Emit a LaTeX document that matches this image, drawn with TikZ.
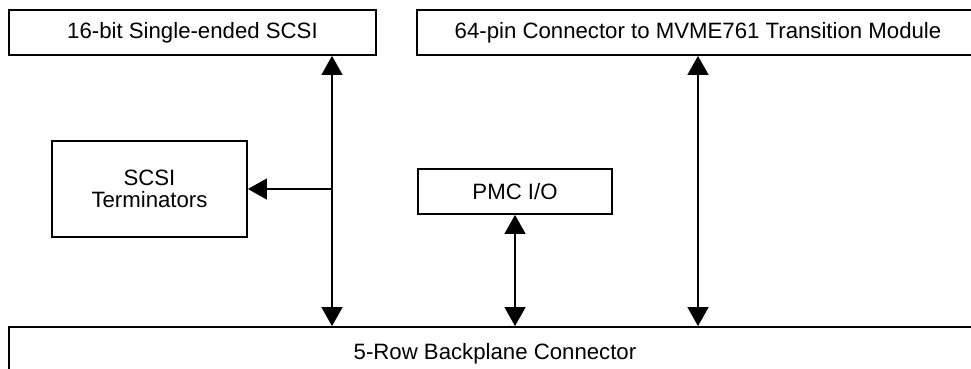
\documentclass[tikz,border=0pt]{standalone}
\usepackage{fontspec}
\setmainfont{Liberation Sans}
\usetikzlibrary{arrows.meta, positioning}

\begin{document}
\begin{tikzpicture}
	[x=1pt, y=-1pt,
	 font=\fontsize{22.2}{22.5}\selectfont,
	 block/.style={draw, line width=1.8pt, inner sep=0pt, align=center},
	 link/.style={line width=1.3pt, {Triangle[length=19pt,width=21pt]}-{Triangle[length=19pt,width=21pt]}},
	 tolink/.style={line width=1.3pt, -{Triangle[length=19pt,width=21pt]}}]
   \useasboundingbox (0,0) rectangle (971,368);
   \clip (0,0) rectangle (971,368);
   \node[block, minimum width=367pt, minimum height=45pt] (scsi) at (192.5,32.5) {16-bit Single-ended SCSI};
   \node[block, minimum width=562pt, minimum height=45pt] (conn) at (698,32.5) {64-pin Connector to MVME761 Transition Module};
   \node[block, minimum width=195pt, minimum height=96pt] (term) at (149.5,189) {SCSI\\Terminators};
   \node[block, minimum width=194pt, minimum height=45pt] (pmc) at (515,191.5) {PMC I/O};
   \node[block, minimum width=972pt, minimum height=54pt] (bp) at (495,354) {5-Row Backplane Connector};
   \coordinate (bus) at (332,0);
    \draw[link] (scsi.south -| bus) -- (bp.north -| bus);
    \draw[tolink] (term.east -| bus) -- (term.east);
    \draw[link] (pmc.south) -- (pmc.south |- bp.north);
    \draw[link] (conn.south) -- (conn.south |- bp.north);
\end{tikzpicture}
\end{document}
